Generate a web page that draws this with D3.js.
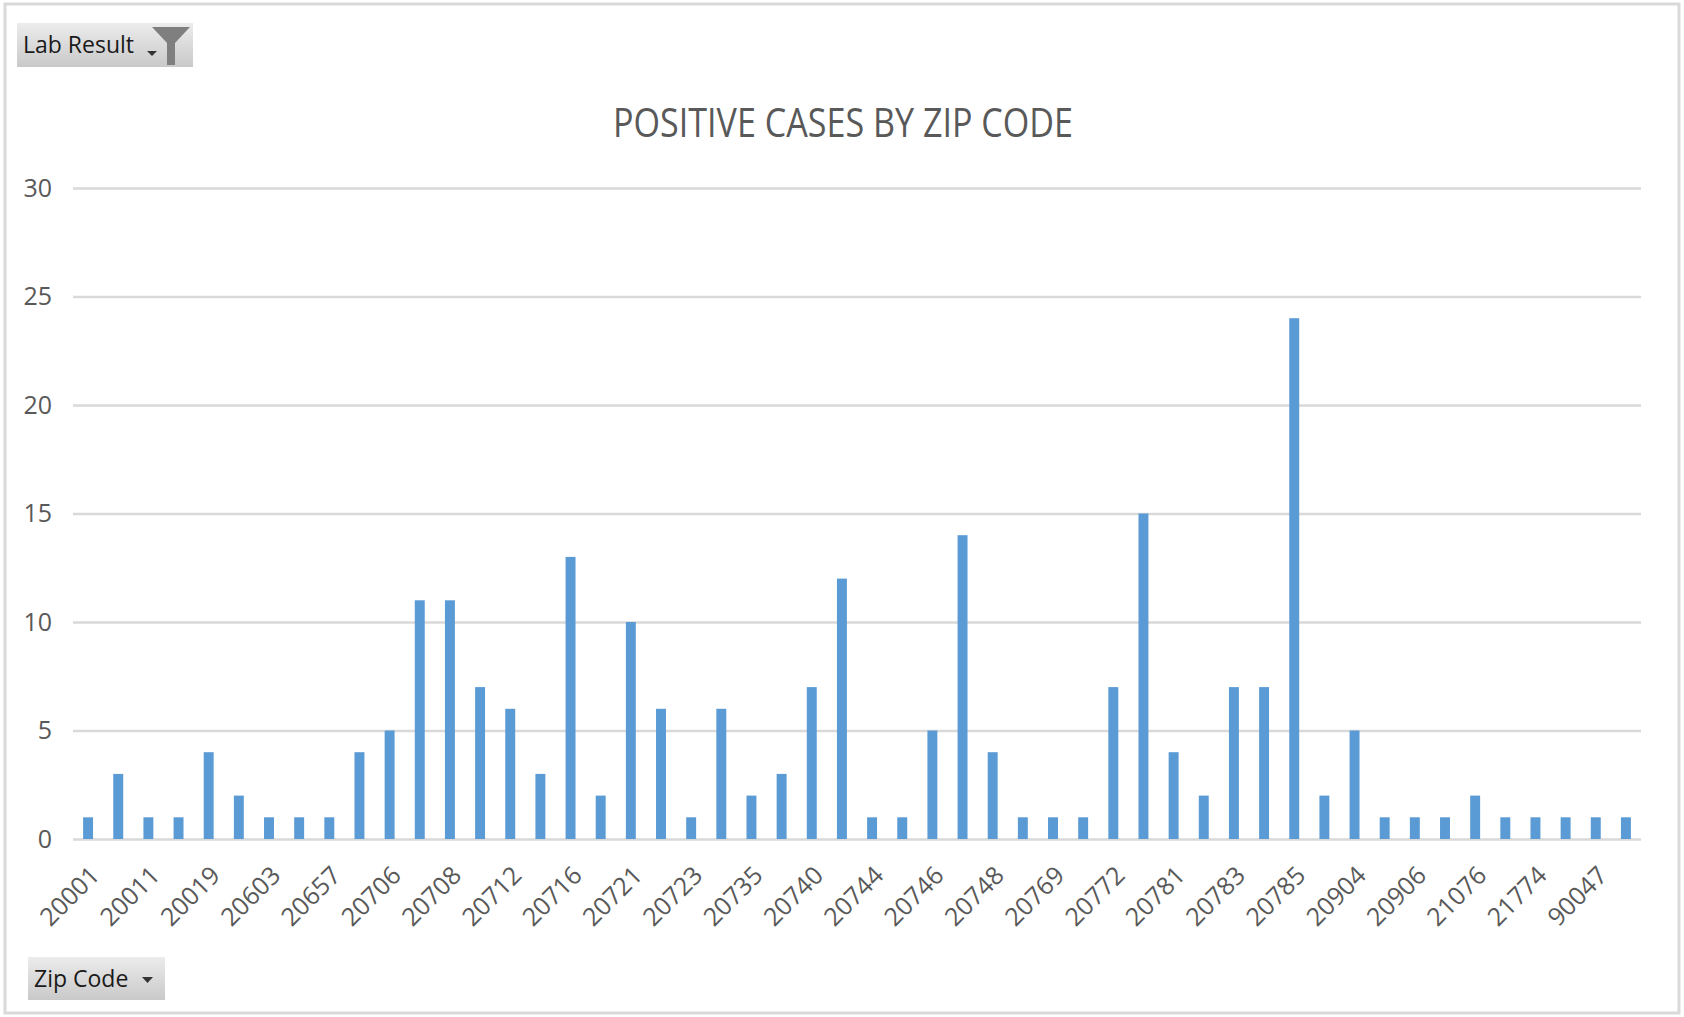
<!DOCTYPE html>
<html>
<head>
<meta charset="utf-8">
<script src="https://cdn.jsdelivr.net/npm/d3@7"></script>
<style>
  body { margin: 0; background: #fff; }
  svg { display: block; }
</style>
</head>
<body>
<script>
// zip codes along the axis (only every other one shows a label)
const zipCodes = [
  "20001", "20010", "20011", "20012", "20019", "20032", "20603", "20646",
  "20657", "20695", "20706", "20707", "20708", "20710", "20712", "20715",
  "20716", "20720", "20721", "20722", "20723", "20724", "20735", "20737",
  "20740", "20743", "20744", "20745", "20746", "20747", "20748", "20759",
  "20769", "20770", "20772", "20774", "20781", "20782", "20783", "20784",
  "20785", "20794", "20904", "20905", "20906", "20910", "21076", "21144",
  "21774", "22003", "90047", "95123"
];
const positiveCases = [
  1, 3, 1, 1, 4, 2, 1, 1, 1, 4, 5, 11, 11, 7, 6, 3,
  13, 2, 10, 6, 1, 6, 2, 3, 7, 12, 1, 1, 5, 14, 4, 1,
  1, 1, 7, 15, 4, 2, 7, 7, 24, 2, 5, 1, 1, 1, 2, 1,
  1, 1, 1, 1
];
const yTicks = [0, 5, 10, 15, 20, 25, 30];

const W = 1684, H = 1017;
const plotL = 73, plotR = 1641, plotT = 188, plotB = 839;
const font = "'Open Sans', 'Noto Sans', sans-serif";

const svg = d3.select("body").append("svg")
  .attr("width", W)
  .attr("height", H);

// outer frame
svg.append("rect")
  .attr("x", 5).attr("y", 4)
  .attr("width", 1674).attr("height", 1009)
  .attr("fill", "#fff")
  .attr("stroke", "#d9d9d9")
  .attr("stroke-width", 3);

const x = d3.scaleBand()
  .domain(zipCodes)
  .range([plotL, plotR])
  .paddingInner(0.67)
  .paddingOuter(0.335);

const y = d3.scaleLinear()
  .domain([0, 30])
  .range([plotB, plotT]);

// gridlines + y labels
const yAxis = svg.append("g")
  .attr("transform", `translate(${plotL},0)`)
  .call(d3.axisLeft(y).tickValues(yTicks).tickSize(-(plotR - plotL)).tickPadding(21));
yAxis.select(".domain").remove();
yAxis.selectAll(".tick line")
  .attr("stroke", "#d9d9d9")
  .attr("stroke-width", 2.5);
yAxis.selectAll(".tick text")
  .attr("fill", "#595959")
  .style("font-family", font)
  .style("font-size", "25px");

// bars
svg.append("g")
  .selectAll("rect")
  .data(positiveCases)
  .join("rect")
  .attr("x", (d, i) => x(zipCodes[i]))
  .attr("y", d => y(d))
  .attr("width", x.bandwidth())
  .attr("height", d => y(0) - y(d))
  .attr("fill", "#5b9bd5");

// x axis
const xAxis = svg.append("g")
  .attr("transform", `translate(0,${plotB})`)
  .call(d3.axisBottom(x)
    .tickValues(zipCodes.filter((z, i) => i % 2 === 0))
    .tickSize(0));
xAxis.select(".domain").remove();
xAxis.selectAll(".tick text")
  .attr("fill", "#595959")
  .style("font-family", font)
  .style("font-size", "25px")
  .attr("text-anchor", "end")
  .attr("dy", null)
  .attr("y", 0)
  .attr("transform", "translate(13,38) rotate(-45)");

// title
svg.append("text")
  .attr("x", 843)
  .attr("y", 137)
  .attr("text-anchor", "middle")
  .attr("fill", "#595959")
  .attr("textLength", 460)
  .attr("lengthAdjust", "spacingAndGlyphs")
  .style("font-family", font)
  .style("font-size", "40px")
  .text("POSITIVE  CASES BY ZIP CODE");

// field buttons
const grad = svg.append("defs").append("linearGradient")
  .attr("id", "btn").attr("x1", 0).attr("y1", 0).attr("x2", 0).attr("y2", 1);
grad.append("stop").attr("offset", 0).attr("stop-color", "#ececec");
grad.append("stop").attr("offset", 1).attr("stop-color", "#c9c9c9");

function fieldButton(bx, by, bw, bh, label) {
  const g = svg.append("g").attr("transform", `translate(${bx},${by})`);
  g.append("rect")
    .attr("width", bw).attr("height", bh)
    .attr("fill", "url(#btn)");
  g.append("text")
    .attr("x", 6).attr("y", bh / 2 + 8)
    .attr("fill", "#1a1a1a")
    .style("font-family", font)
    .style("font-size", "23px")
    .text(label);
  return g;
}

const lab = fieldButton(17, 23, 176, 44, "Lab Result");
lab.append("path")
  .attr("d", "M130,28 L140,28 L135,33 Z")
  .attr("fill", "#333");
lab.append("path")
  .attr("d", "M135,4 L173,4 L158,20 L158,42 L150,42 L150,20 Z")
  .attr("fill", "#7f7f7f");

const zip = fieldButton(28, 957, 137, 43, "Zip Code");
zip.append("path")
  .attr("d", "M114,20 L125,20 L119.5,26 Z")
  .attr("fill", "#333");
</script>
</body>
</html>
